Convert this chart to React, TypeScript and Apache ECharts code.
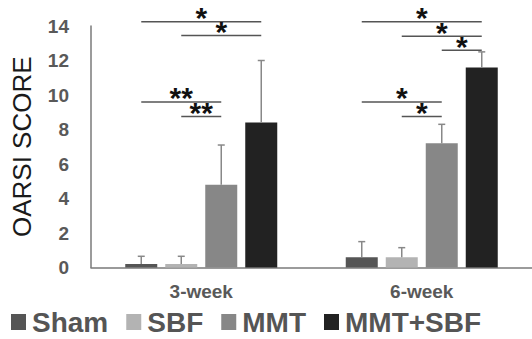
import React, { useEffect, useRef } from "react";
import * as echarts from "echarts";

const categories = ["3-week", "6-week"];
const seriesNames = ["Sham", "SBF", "MMT", "MMT+SBF"];
const shamValues = [0.2, 0.6];
const sbfValues = [0.2, 0.6];
const mmtValues = [4.8, 7.2];
const mmtSbfValues = [8.4, 11.6];
const shamErr = [0.45, 0.9];
const sbfErr = [0.45, 0.55];
const mmtErr = [2.3, 1.1];
const mmtSbfErr = [3.6, 0.9];
const yTicks = { min: 0, max: 14, interval: 2 };
// significance brackets: [categoryIndex, fromSeries, toSeries, level, label]
const significance: [number, number, number, number, string][] = [
  [0, 0, 3, 14.25, "*"],
  [0, 1, 3, 13.45, "*"],
  [0, 0, 2, 9.6, "**"],
  [0, 1, 2, 8.75, "**"],
  [1, 0, 3, 14.25, "*"],
  [1, 1, 3, 13.4, "*"],
  [1, 2, 3, 12.6, "*"],
  [1, 0, 2, 9.6, "*"],
  [1, 1, 2, 8.75, "*"],
];

const colors = ["#555555", "#b3b3b3", "#878787", "#222222"];
const FONT = 'Arial, "Liberation Sans", sans-serif';
const BAR_W = 32;
const BAR_STEP = 40;

export default function App() {
  const ref = useRef<HTMLDivElement>(null);
  useEffect(() => {
    if (!ref.current) return;
    const chart = echarts.init(ref.current, null, { renderer: "svg" });
    const values = [shamValues, sbfValues, mmtValues, mmtSbfValues];
    const errs = [shamErr, sbfErr, mmtErr, mmtSbfErr];
    const offset = (i: number) => -((seriesNames.length - 1) * BAR_STEP) / 2 + i * BAR_STEP;

    const errData: number[][] = [];
    values.forEach((arr, s) =>
      arr.forEach((v, c) => errData.push([c, s, v, v + errs[s][c]]))
    );

    const barSeries = seriesNames.map((name, i) => ({
      name,
      type: "bar",
      data: values[i],
      barWidth: BAR_W,
      barGap: "25%",
      itemStyle: { color: colors[i] },
      emphasis: { disabled: true },
    }));

    chart.setOption({
      animation: false,
      grid: { left: 91, top: 26, width: 444, height: 241.5 },
      legend: {
        data: seriesNames.map((n) => ({ name: n, icon: "rect" })),
        left: 11,
        top: 308,
        padding: 0,
        itemWidth: 15,
        itemHeight: 16,
        itemGap: 18,
        selectedMode: false,
        textStyle: {
          fontSize: 28,
          lineHeight: 28,
          fontWeight: "bold",
          color: "#555555",
          fontFamily: FONT,
          padding: [0, 0, 0, 1],
        },
      },
      xAxis: {
        type: "category",
        data: categories,
        axisLine: { lineStyle: { color: "#7a7a7a", width: 1.5 } },
        axisTick: { show: false },
        axisLabel: { fontSize: 19, fontWeight: "bold", color: "#595959", fontFamily: FONT, margin: 14 },
      },
      yAxis: {
        type: "value",
        min: yTicks.min,
        max: yTicks.max,
        interval: yTicks.interval,
        name: "OARSI SCORE",
        nameLocation: "middle",
        nameGap: 56,
        nameRotate: 90,
        nameTextStyle: { fontSize: 26, color: "#1a1a1a", fontFamily: FONT },
        axisLine: { show: true, lineStyle: { color: "#7a7a7a", width: 1.5 } },
        axisTick: { show: false },
        splitLine: { show: false },
        axisLabel: { fontSize: 19, fontWeight: "bold", color: "#595959", fontFamily: FONT, margin: 22 },
      },
      series: [
        ...barSeries,
        {
          type: "custom",
          name: "err",
          clip: false,
          z: 5,
          data: errData,
          renderItem: (_p: any, api: any) => {
            const c = api.value(0);
            const s = api.value(1);
            const top = api.coord([c, api.value(2)]);
            const hi = api.coord([c, api.value(3)]);
            const x = top[0] + offset(s);
            const style = { stroke: "#888888", lineWidth: 1.5 };
            return {
              type: "group",
              children: [
                { type: "line", shape: { x1: x, y1: top[1], x2: x, y2: hi[1] }, style },
                { type: "line", shape: { x1: x - 3.5, y1: hi[1], x2: x + 3.5, y2: hi[1] }, style },
              ],
            };
          },
        },
        {
          type: "custom",
          name: "sig",
          clip: false,
          z: 6,
          data: significance.map((d) => [d[0], d[1], d[2], d[3]]),
          renderItem: (p: any, api: any) => {
            const c = api.value(0);
            const f = api.value(1);
            const t = api.value(2);
            const pt = api.coord([c, api.value(3)]);
            const x1 = pt[0] + offset(f);
            const x2 = pt[0] + offset(t);
            const label = significance[p.dataIndex][4];
            return {
              type: "group",
              children: [
                { type: "line", shape: { x1, y1: pt[1], x2, y2: pt[1] }, style: { stroke: "#555555", lineWidth: 1.5 } },
                {
                  type: "text",
                  x: (x1 + x2) / 2,
                  y: pt[1] - 4,
                  style: {
                    text: label,
                    fontSize: 30,
                    fontWeight: "bold",
                    fontFamily: FONT,
                    fill: "#111111",
                    align: "center",
                    verticalAlign: "middle",
                    letterSpacing: 1,
                  },
                },
              ],
            };
          },
        },
      ],
    });
    return () => chart.dispose();
  }, []);
  return <div ref={ref} style={{ width: 532, height: 339, position: "absolute", left: 0, top: 0 }} />;
}
